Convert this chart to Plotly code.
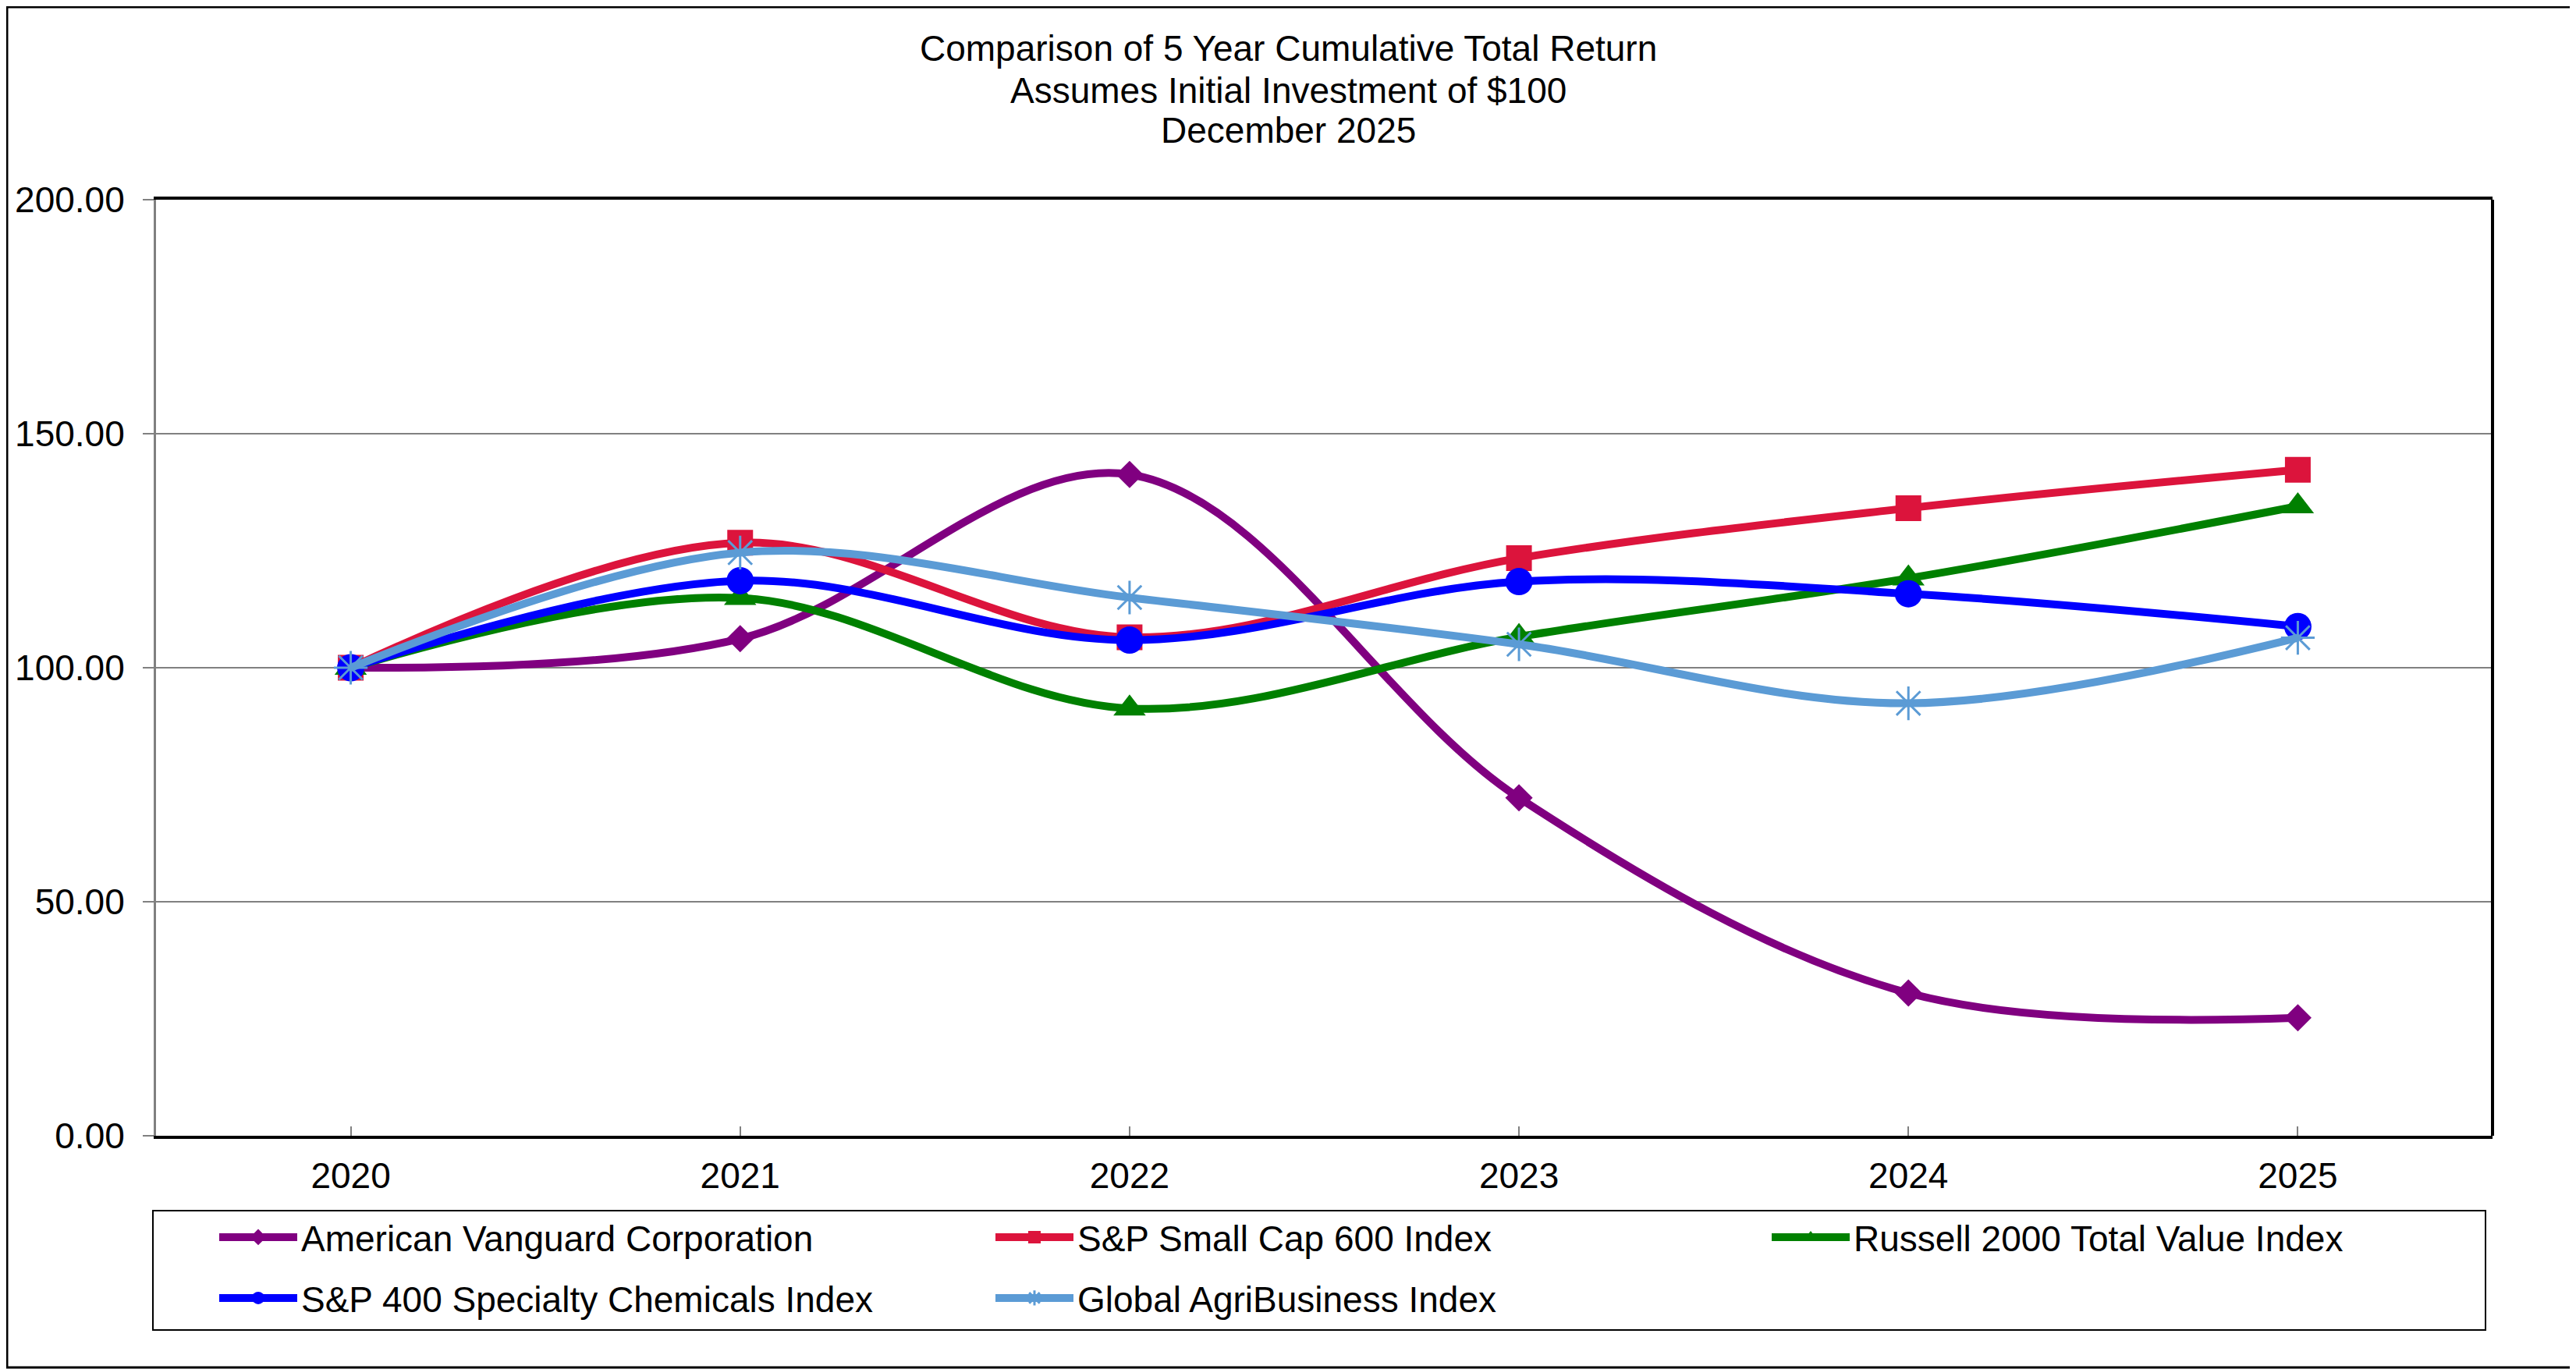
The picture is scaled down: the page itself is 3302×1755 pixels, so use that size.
import plotly.graph_objects as go

years = ["2020", "2021", "2022", "2023", "2024", "2025"]

avd = [100.0, 106.2, 141.3, 72.2, 30.5, 25.2]
sp600 = [100.0, 126.7, 106.5, 123.4, 134.1, 142.3]
russell = [100.0, 114.9, 91.3, 106.6, 119.1, 134.5]
sp400_chem = [100.0, 118.6, 105.9, 118.4, 115.8, 108.8]
agri = [100.0, 124.6, 115.0, 105.0, 92.4, 106.4]

names = [
    "American Vanguard Corporation",
    "S&P Small Cap 600 Index",
    "Russell 2000 Total Value Index",
    "S&P 400 Specialty Chemicals Index",
    "Global AgriBusiness Index",
]

title_lines = [
    "Comparison of 5 Year Cumulative Total Return",
    "Assumes Initial Investment of $100",
    "December 2025",
]

FONT = "Arial, Liberation Sans, sans-serif"
FS = 46
OFF = 8  # page body margin
W, H = 3302 - OFF, 1755 - OFF
ML, MR, MT, MB = 200 - OFF, 107, 256 - OFF, 299
PW, PH = W - ML - MR, H - MT - MB


# screen pixel -> paper coords
def px(x):
    return (x - 200) / PW


def py(y):
    return (1456 - y) / PH


series = [
    (avd, "#800080", "diamond", 27, 0, "legend"),
    (sp600, "#DC143C", "square", 33, 0, "legend"),
    (russell, "#008000", "triangle-up", 36, 0, "legend"),
    (sp400_chem, "#0000FF", "circle", 35, 0, "legend2"),
    (agri, "#5B9BD5", "asterisk-open", 36, 3, "legend2"),
]

fig = go.Figure()
for (vals, color, sym, size, mlw, leg), name in zip(series, names):
    fig.add_trace(go.Scatter(
        x=years, y=vals, name=name, mode="lines+markers", legend=leg,
        line=dict(color=color, width=10, shape="spline", smoothing=1),
        marker=dict(symbol=sym, size=size, color=color,
                    line=dict(color=color, width=mlw)),
    ))

leg_common = dict(
    orientation="h", xanchor="left", yanchor="middle",
    entrywidth=880, entrywidthmode="pixels", itemwidth=100,
    borderwidth=0, bgcolor="rgba(0,0,0,0)", font=dict(size=FS),
)

fig.update_layout(
    width=W, height=H,
    margin=dict(l=ML, r=MR, t=MT, b=MB),
    paper_bgcolor="white", plot_bgcolor="white",
    font=dict(family=FONT, size=FS, color="black"),
    legend=dict(x=px(276), y=py(1586), **leg_common),
    legend2=dict(x=px(276), y=py(1664), **leg_common),
)

fig.update_xaxes(
    type="category", range=[-0.5, 5.5],
    showline=True, linecolor="black", linewidth=4, mirror=True,
    ticks="inside", ticklen=12, tickcolor="#808080", tickwidth=2,
    showgrid=False, ticklabelstandoff=8,
)
fig.update_yaxes(
    range=[0, 200], dtick=50, tickformat=".2f",
    showline=True, linecolor="#808080", linewidth=3,
    ticks="outside", ticklen=14, tickcolor="#808080", tickwidth=2,
    showgrid=True, gridcolor="#808080", gridwidth=2, zeroline=False,
    ticklabelstandoff=14,
)

# right edge of plot area, legend box and outer frame
fig.add_shape(type="line", xref="paper", yref="paper", x0=1, x1=1, y0=0, y1=1,
              line=dict(color="black", width=4))
fig.add_shape(type="rect", xref="paper", yref="paper",
              x0=px(196), x1=px(3186), y0=py(1705), y1=py(1552),
              line=dict(color="black", width=2))
fig.add_shape(type="rect", xref="paper", yref="paper",
              x0=px(OFF + 1), x1=px(3300), y0=py(1753), y1=py(OFF + 1),
              line=dict(color="black", width=3))

for line, ypx in zip(title_lines, [62, 116, 167]):
    fig.add_annotation(text=line, xref="paper", yref="paper",
                       x=px(1651), y=py(ypx),
                       xanchor="center", yanchor="middle", showarrow=False,
                       font=dict(size=FS))

fig.write_html("out.html")
